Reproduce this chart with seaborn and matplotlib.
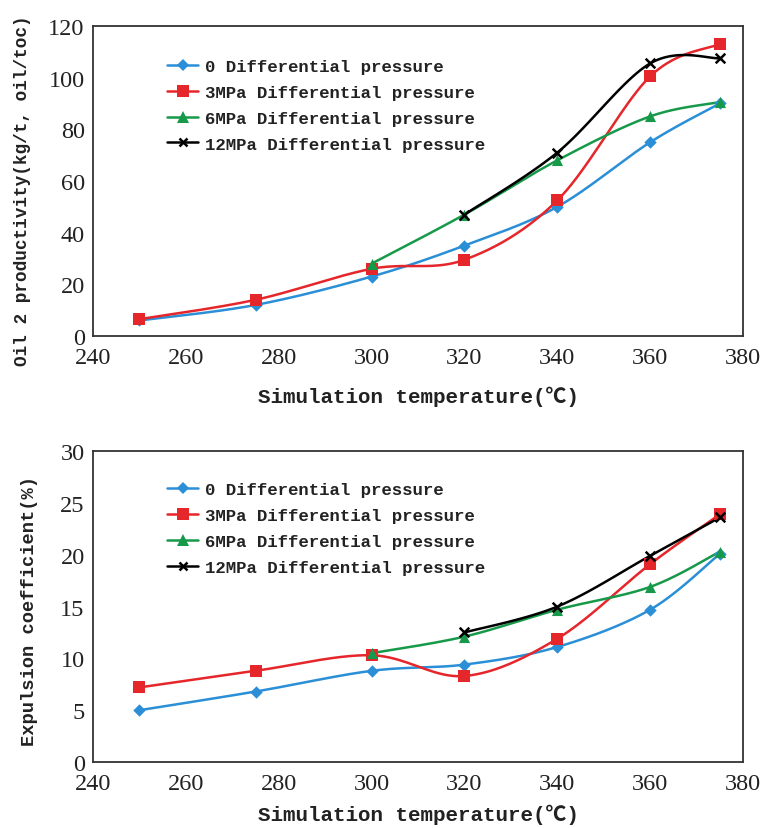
import numpy as np
import pandas as pd
import seaborn as sns
import matplotlib.pyplot as plt
from matplotlib.lines import Line2D

# data
temps = [250, 275, 300, 320, 340, 360, 375]
series_names = ['0 Differential pressure', '3MPa Differential pressure',
                '6MPa Differential pressure', '12MPa Differential pressure']

oil_0 = [6, 12, 23, 35, 50, 75, 90]
oil_3 = [6.5, 14, 26, 29.5, 52.5, 100.5, 113]
oil_6 = [28, 47, 68, 85, 90.5]
oil_12 = [47, 71, 105.5, 107.5]

exp_0 = [5.0, 6.8, 8.8, 9.4, 11.1, 14.7, 20.1]
exp_3 = [7.2, 8.8, 10.3, 8.3, 11.9, 19.1, 23.9]
exp_6 = [10.5, 12.1, 14.7, 16.9, 20.3]
exp_12 = [12.5, 15.0, 19.9, 23.6]

colors = ['#2a8fd6', '#e5262b', '#17994a', '#000000']
markers = ['D', 's', '^', 'x']
msizes = [40, 64, 64, 48]

sns.set_style('white')
mono = ['Liberation Mono', 'Noto Sans CJK SC']
tick_font = 'Liberation Serif'
txt_color = '#222222'


def smooth(x, y, n=40):
    # Excel-style smoothed line (Catmull-Rom Bezier)
    x = np.asarray(x, float)
    y = np.asarray(y, float)
    pts = np.column_stack([x, y])
    out = []
    for i in range(len(pts) - 1):
        p0 = pts[i - 1] if i > 0 else pts[i]
        p1 = pts[i]
        p2 = pts[i + 1]
        p3 = pts[i + 2] if i + 2 < len(pts) else pts[i + 1]
        c1 = p1 + (p2 - p0) / 6
        c2 = p2 - (p3 - p1) / 6
        t = np.linspace(0, 1, n)[:, None]
        seg = ((1 - t) ** 3) * p1 + 3 * ((1 - t) ** 2) * t * c1 + 3 * (1 - t) * t ** 2 * c2 + t ** 3 * p2
        out.append(seg if i == 0 else seg[1:])
    seg = np.vstack(out)
    return seg[:, 0], seg[:, 1]


def draw(ax, ys, ylabel, ymax, ystep, legend_y, ylab_size, ylab_xy, xlab_y):
    for name, y, c, m, s in zip(series_names, ys, colors, markers, msizes):
        x = temps[len(temps) - len(y):]
        sx, sy = smooth(x, y)
        sns.lineplot(x=sx, y=sy, ax=ax, color=c, lw=1.8, sort=False, estimator=None)
        lw = 1.8 if m == 'x' else 0
        sns.scatterplot(x=x, y=y, ax=ax, color=c, marker=m, s=s, linewidth=lw,
                        edgecolor=c, zorder=5)
    ax.set_xlim(240, 380)
    ax.set_ylim(0, ymax)
    ax.set_xticks(range(240, 381, 20))
    ax.set_yticks(np.arange(0, ymax + 0.1, ystep))
    ax.tick_params(axis='x', direction='in', length=5, width=1, color='#333333',
                   pad=8, labelsize=17.5, labelcolor=txt_color)
    ax.tick_params(axis='y', length=0, pad=6, labelsize=17.5, labelcolor=txt_color)
    for lab in ax.get_xticklabels() + ax.get_yticklabels():
        lab.set_fontfamily(tick_font)
    for sp in ax.spines.values():
        sp.set_color('#333333')
        sp.set_linewidth(1.3)
    ax.set_xlabel('Simulation temperature(℃)', family=mono, fontsize=15,
                  color=txt_color, va='center', fontweight='bold')
    ax.xaxis.set_label_coords(0.5, xlab_y)
    ax.set_ylabel(ylabel, family=mono, fontsize=ylab_size, color=txt_color,
                  va='center', fontweight='bold')
    ax.yaxis.set_label_coords(*ylab_xy)
    handles = [Line2D([0], [0], color=c, marker=m, lw=1.8, markersize=ms,
                      markeredgewidth=1.8 if m == 'x' else 0)
               for c, m, ms in zip(colors, markers, [6, 8, 8, 6])]
    leg = ax.legend(handles, series_names, loc='upper left', frameon=False,
                    bbox_to_anchor=(0.09, legend_y), handlelength=1.8,
                    handletextpad=0.4, labelspacing=0.62,
                    prop={'family': mono, 'size': 12.5, 'weight': 'bold'})
    for t in leg.get_texts():
        t.set_color(txt_color)


fig = plt.figure(figsize=(7.65, 8.29), dpi=100)
ax1 = fig.add_axes([0.1216, 0.5935, 0.8497, 0.374])
ax2 = fig.add_axes([0.1216, 0.0796, 0.8497, 0.375])

draw(ax1, [oil_0, oil_3, oil_6, oil_12], 'Oil 2 productivity(kg/t, oil/toc)',
     120, 20, 0.945, 12.8, (-0.109, 0.471), -0.194)
draw(ax2, [exp_0, exp_3, exp_6, exp_12], 'Expulsion coefficient(%)',
     30, 5, 0.95, 13.5, (-0.097, 0.489), -0.167)

fig.savefig('out.png', dpi=100)
